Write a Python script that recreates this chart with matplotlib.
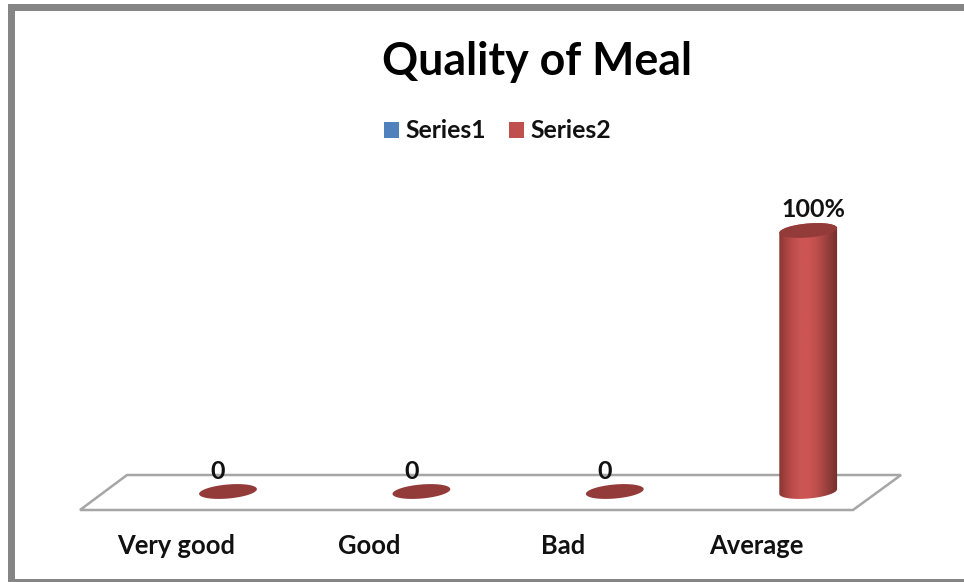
import numpy as np
import matplotlib
matplotlib.use("Agg")
import matplotlib.pyplot as plt
from matplotlib.patches import Polygon, Patch, Rectangle
from matplotlib.colors import LinearSegmentedColormap
from matplotlib.transforms import IdentityTransform

categories = ["Very good", "Good", "Bad", "Average"]
series1_values = [0, 0, 0, 0]
series2_values = [0, 0, 0, 100]
value_labels = ["0", "0", "0", "100%"]
series_names = ["Series1", "Series2"]
title_text = "Quality of Meal"

W, H = 964, 582
plt.rcParams["font.family"] = ["Lato", "DejaVu Sans"]
fig = plt.figure(figsize=(W / 100, H / 100), dpi=100, facecolor="white")
ax = fig.add_axes([0, 0, 1, 1])

# Scales: category spacing and value scale mapped to pixels of the canvas
X0, DX = 228.0, 193.4
Y0, DY = 491.5, 2.61
ax.set_xlim(-X0 / DX, (W - X0) / DX)
ax.set_ylim(-(H - Y0) / DY, Y0 / DY)
ax.axis("off")

def px(x, y):
    """Canvas pixel (y down) to figure display coordinates."""
    return (x, H - y)

identity = IdentityTransform()

# Outer frame
frame = "#858585"
for (x, y, w, h) in [(8, 4, 956, 7), (8, 4, 7, 578), (8, 579, 956, 3)]:
    fig.add_artist(Rectangle((x, H - y - h), w, h, transform=identity, fc=frame, ec="none"))

# Floor
floor = [px(80, 510), px(127, 475), px(901, 475), px(853, 510)]
ax.add_patch(Polygon(floor, closed=True, fc="white", ec="#a6a6a6", lw=1.8,
                     transform=identity, zorder=1, joinstyle="miter"))

RX, RY = 29.0, 7.0
TILT = np.deg2rad(5)
cmap = LinearSegmentedColormap.from_list("cyl", ["#8a3533", "#a84341", "#c04e4c", "#cc5654", "#cc5553",
                                                  "#c04f4d", "#a84543", "#8c3a38", "#732e2c"])

def ellipse_xy(cx, cy, start=0, stop=2 * np.pi, n=120):
    t = np.linspace(start, stop, n)
    ex = RX * np.cos(t)
    ey = RY * np.sin(t)
    # display coordinates: rises toward the right
    return np.column_stack([cx + ex * np.cos(TILT) - ey * np.sin(TILT),
                            cy + ex * np.sin(TILT) + ey * np.cos(TILT)])

for i, v in enumerate(series2_values):
    bx, by = ax.transData.transform((i, 0))
    tx, ty = ax.transData.transform((i, v))
    if v > 0:
        low = ellipse_xy(bx, by, np.pi, 2 * np.pi)
        high = ellipse_xy(tx, ty, 0, np.pi)
        body = np.vstack([low, high])
        im = ax.imshow(np.linspace(0, 1, 256).reshape(1, -1), cmap=cmap, aspect="auto", zorder=3,
                       extent=(i - RX / DX, i + RX / DX, -5, v + 5), interpolation="bilinear")
        clip = Polygon(body, closed=True, transform=identity, fc="none", ec="none")
        ax.add_patch(clip)
        im.set_clip_path(clip)
    ax.add_patch(Polygon(ellipse_xy(tx, ty), closed=True, transform=identity,
                         fc="#933b39", ec="none", zorder=4))

ax.set_xlim(-X0 / DX, (W - X0) / DX)
ax.set_ylim(-(H - Y0) / DY, Y0 / DY)

# Data labels
for i, (v, lab) in enumerate(zip(series2_values, value_labels)):
    dx = 5 if v > 0 else -10
    dy = 21 if v > 0 else 20
    ax.annotate(lab, (i, v), xytext=(dx, dy), textcoords="offset pixels", ha="center", va="center",
                fontsize=18, fontweight="bold", color="#111111", zorder=5)

# Category labels
for i, c in enumerate(categories):
    ax.annotate(c, (i, 0), xytext=(-52, -55), textcoords="offset pixels", ha="center",
                va="center", fontsize=18.4, fontweight="bold", color="#111111")

# Title
fig.text(537.5 / W, 1 - 62 / H, title_text, ha="center", va="center", fontsize=32.2,
         fontweight="bold", color="black")

# Legend
handles = [Patch(fc="#4f81bd", ec="none", label=series_names[0]),
           Patch(fc="#c0504d", ec="none", label=series_names[1])]
fig.legend(handles=handles, loc="center", bbox_to_anchor=(497.5 / W, 1 - 131 / H), ncol=2, frameon=False,
           prop={"size": 17.8, "weight": "bold"}, handlelength=0.6, handleheight=0.6,
           handletextpad=0.28, columnspacing=0.93, labelcolor="#111111")

fig.savefig("out.png", dpi=100, facecolor="white")
